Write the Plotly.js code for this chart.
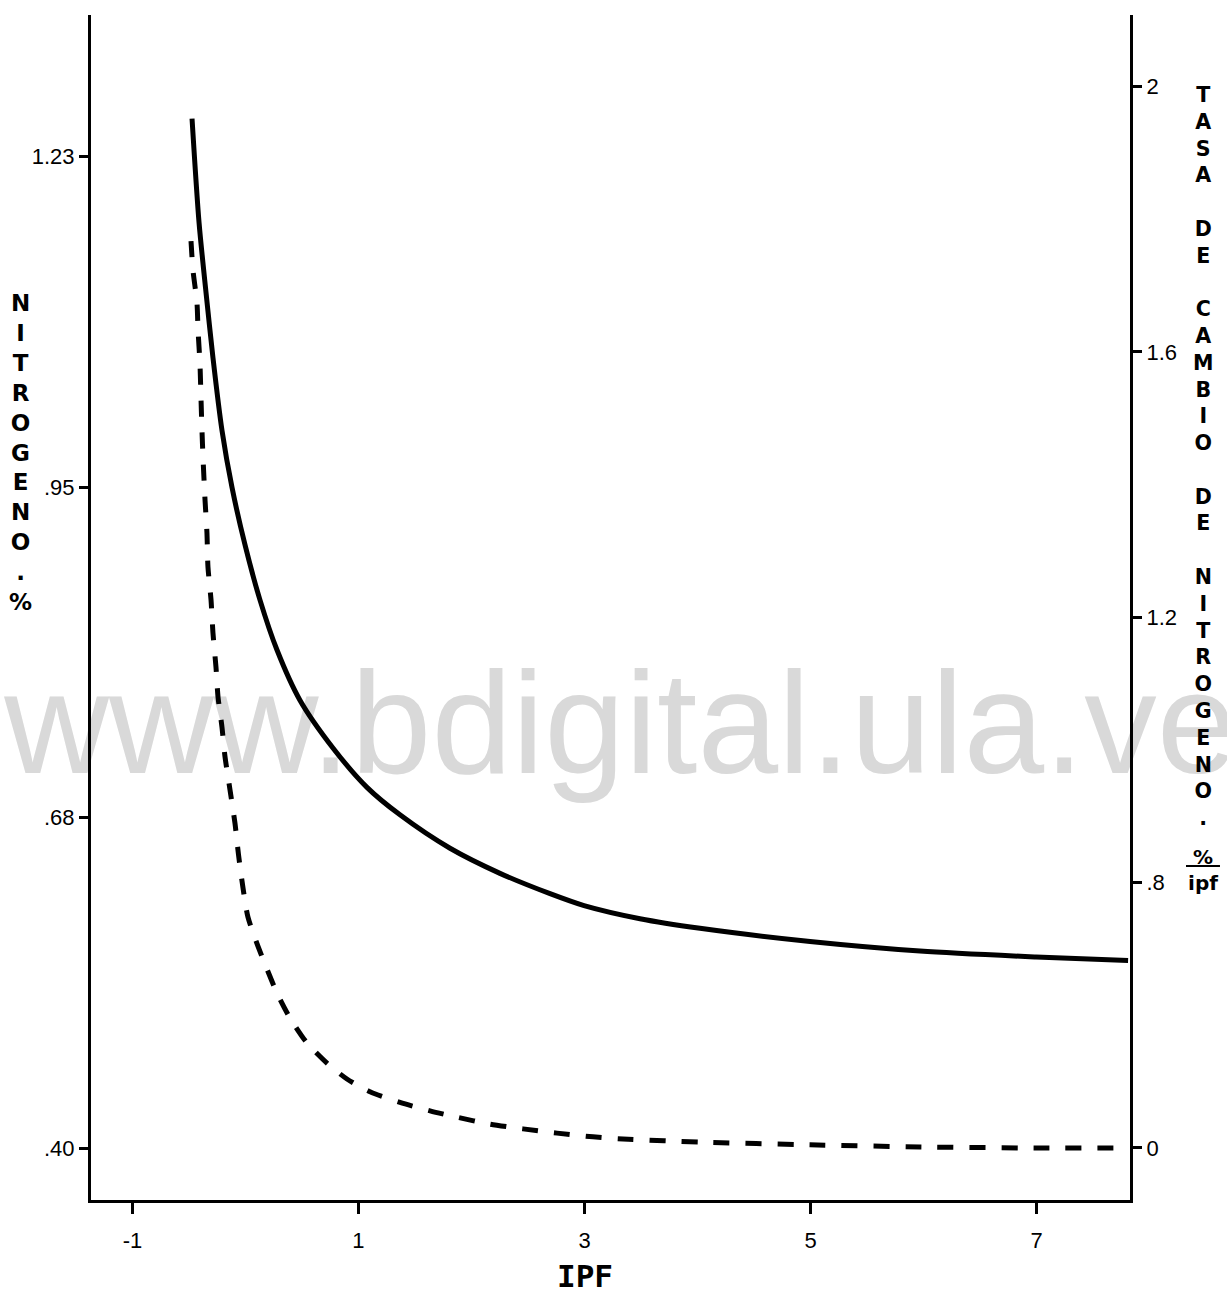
<!DOCTYPE html>
<html>
<head>
<meta charset="utf-8">
<script src="https://cdn.plot.ly/plotly-3.0.1.min.js"></script>
<style>
  html, body { margin: 0; padding: 0; background: #ffffff; }
  #chart { width: 1227px; height: 1295px; }
</style>
</head>
<body>
<div id="chart"></div>
<script>
// ---- Data ----
// Solid curve: Nitrogeno (%) vs IPF (left axis)
const ipfSolid = [-0.473, -0.411, -0.350, -0.288, -0.208, -0.119, -0.004, 0.128, 0.279, 0.482,
                  0.774, 1.075, 1.367, 1.810, 2.252, 2.695, 2.996, 3.491, 4.022, 4.996,
                  5.969, 6.996, 7.810];
const nitrogen = [1.262, 1.175, 1.117, 1.062, 1.001, 0.953, 0.905, 0.859, 0.817, 0.775,
                  0.735, 0.702, 0.679, 0.651, 0.630, 0.613, 0.603, 0.592, 0.584, 0.573,
                  0.565, 0.560, 0.557];

// Dashed curve: tasa de cambio de nitrogeno (%/ipf) vs IPF (right axis units)
const ipfDashed = [-0.482, -0.465, -0.429, -0.420, -0.403, -0.394, -0.385, -0.376, -0.358, -0.341,
                   -0.332, -0.305, -0.288, -0.261, -0.243, -0.208, -0.181, -0.137, -0.093, -0.062,
                   -0.022, 0.022, 0.111, 0.279, 0.394, 0.544, 0.721, 0.898, 1.102, 1.367,
                   1.633, 1.872, 2.164, 2.456, 2.757, 3.075, 3.341, 4.022, 4.996, 5.969,
                   6.996, 7.810];
const rate = [1.709, 1.655, 1.592, 1.542, 1.479, 1.415, 1.353, 1.302, 1.221, 1.159,
              1.095, 1.033, 0.971, 0.906, 0.850, 0.793, 0.737, 0.675, 0.612, 0.553,
              0.490, 0.435, 0.380, 0.292, 0.245, 0.198, 0.160, 0.130, 0.106, 0.086,
              0.070, 0.058, 0.045, 0.036, 0.028, 0.021, 0.017, 0.011, 0.006, 0.002,
              0.000, 0.000];

// Tick labels
const xTickVals = [-1, 1, 3, 5, 7];
const xTickText = ["-1", "1", "3", "5", "7"];
const leftTickVals = [0.40, 0.40 + 0.83/3, 0.40 + 2*0.83/3, 1.23];
const leftTickText = [".40", ".68", ".95", "1.23"];
const rightTickVals = [0, 0.5, 1.0, 1.5, 2.0];
const rightTickText = ["0", ".8", "1.2", "1.6", "2"];

const leftTitle = ["N","I","T","R","O","G","E","N","O",".","%"];
const rightTitle = ["T","A","S","A","","D","E","","C","A","M","B","I","O","","D","E","",
                    "N","I","T","R","O","G","E","N","O","."];

// ---- Traces ----
const traces = [
  {
    x: ipfSolid, y: nitrogen, type: "scatter", mode: "lines",
    line: { color: "#000000", width: 5, shape: "spline", smoothing: 0.8 },
    yaxis: "y", hoverinfo: "skip", showlegend: false
  },
  {
    x: ipfDashed, y: rate, type: "scatter", mode: "lines",
    line: { color: "#000000", width: 5, dash: "16px,16px", shape: "spline", smoothing: 0.7 },
    yaxis: "y2", hoverinfo: "skip", showlegend: false
  }
];

const tickFont = { family: "Liberation Sans, Arial, sans-serif", size: 22, color: "#000000" };

const layout = {
  width: 1227, height: 1295,
  margin: { l: 91, r: 97, t: 15, b: 95, pad: 0 },
  paper_bgcolor: "#ffffff", plot_bgcolor: "rgba(0,0,0,0)",
  showlegend: false,
  xaxis: {
    range: [-1.367, 7.827], tickmode: "array", tickvals: xTickVals, ticktext: xTickText,
    showline: true, linecolor: "#000000", linewidth: 3, mirror: false,
    ticks: "outside", ticklen: 11, tickwidth: 3, tickcolor: "#000000",
    ticklabelstandoff: 8,
    showgrid: false, zeroline: false, tickfont: tickFont, fixedrange: true
  },
  yaxis: {
    range: [0.3565, 1.3487], tickmode: "array", tickvals: leftTickVals, ticktext: leftTickText,
    showline: true, linecolor: "#000000", linewidth: 3,
    ticks: "outside", ticklen: 9, tickwidth: 3, tickcolor: "#000000",
    showgrid: false, zeroline: false, tickfont: tickFont, fixedrange: true
  },
  yaxis2: {
    range: [-0.098, 2.135], overlaying: "y", side: "right",
    tickmode: "array", tickvals: rightTickVals, ticktext: rightTickText,
    showline: true, linecolor: "#000000", linewidth: 3,
    ticks: "outside", ticklen: 9, tickwidth: 3, tickcolor: "#000000",
    showgrid: false, zeroline: false, tickfont: tickFont, fixedrange: true
  },
  shapes: [
    {
      type: "rect", xref: "paper", yref: "paper", layer: "below",
      x0: 0.40, x1: 0.62, y0: 0.392, y1: 0.437,
      line: { width: 0 }, fillcolor: "rgba(0,0,0,0)",
      label: {
        text: "www.bdigital.ula.ve",
        textposition: "middle center",
        font: { family: "Liberation Sans, Arial, sans-serif", size: 145, color: "#d9d9d9" }
      }
    }
  ],
  annotations: [
    {
      xref: "paper", yref: "paper", x: (20 - 91) / 1039, y: (1200 - 453) / 1185,
      xanchor: "center", yanchor: "middle", showarrow: false, align: "center",
      text: "<b>" + leftTitle.join("<br>") + "</b>",
      font: { family: "DejaVu Sans, sans-serif", size: 23, color: "#000000" }
    },
    {
      xref: "paper", yref: "paper", x: (1203 - 91) / 1039, y: (1200 - 457) / 1185,
      xanchor: "center", yanchor: "middle", showarrow: false, align: "center",
      text: "<b>" + rightTitle.map(c => c === "" ? "&nbsp;" : c).join("<br>") + "</b>",
      font: { family: "DejaVu Sans, sans-serif", size: 20.6, color: "#000000" }
    },
    {
      xref: "paper", yref: "paper", x: (1203 - 91) / 1039, y: (1200 - 870) / 1185,
      xanchor: "center", yanchor: "middle", showarrow: false, align: "center",
      text: "<b><u>&nbsp;%&nbsp;</u><br>ipf</b>",
      font: { family: "DejaVu Sans, sans-serif", size: 20, color: "#000000" }
    },
    {
      xref: "paper", yref: "paper", x: (585 - 91) / 1039, y: (1200 - 1276) / 1185,
      xanchor: "center", yanchor: "middle", showarrow: false,
      text: "<b>IPF</b>",
      font: { family: "DejaVu Sans Mono, monospace", size: 31, color: "#000000" }
    }
  ]
};

Plotly.newPlot("chart", traces, layout, { staticPlot: true, displayModeBar: false });
</script>
</body>
</html>
